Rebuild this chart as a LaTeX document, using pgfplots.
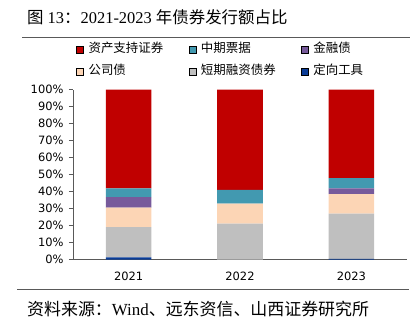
\documentclass[border=0pt]{standalone}
\usepackage{fontspec}
\usepackage{pgfplots}
\pgfplotsset{compat=1.18}
\setmainfont{Liberation Serif}
\newfontfamily\cjk{Noto Sans CJK SC}
\newfontfamily\tickfont{DejaVu Sans}
\definecolor{cRed}{HTML}{C00000}
\definecolor{cTeal}{HTML}{4299B0}
\definecolor{cPurple}{HTML}{775A9B}
\definecolor{cPeach}{HTML}{FCD5B5}
\definecolor{cGray}{HTML}{BFBFBF}
\definecolor{cBlue}{HTML}{0A3C96}
\definecolor{axisgray}{HTML}{595959}
\begin{document}
\begin{tikzpicture}
\path[use as bounding box] (0,0) rectangle (417bp,-331bp);
\node[anchor=west,inner sep=0pt,font=\fontsize{16.5}{18}\selectfont] at (27bp,-17bp) {{\cjk 图} 13{\cjk ：}2021-2023 {\cjk 年债券发行额占比}};
\draw[axisgray,line width=1bp] (22bp,-37.7bp) -- (410bp,-37.7bp);
\draw[axisgray,line width=1bp] (17bp,-289.3bp) -- (409bp,-289.3bp);
\node[anchor=west,inner sep=0pt,font=\fontsize{17}{19}\selectfont] at (27bp,-309bp) {{\cjk 资料来源：}Wind{\cjk 、远东资信、山西证券研究所}};
\begin{axis}[
  scale only axis,
  width=334bp, height=170bp,
  at={(73bp,-259.5bp)}, anchor=south west,
  ybar stacked, bar width=0.41,
  xmin=-0.5, xmax=2.5, ymin=0, ymax=100,
  axis x line*=bottom, axis y line*=left,
  axis line style={-,axisgray,line width=0.8bp},
  xtick={0,1,2}, xticklabels={2021,2022,2023},
  x tick style={draw=none},
  extra x ticks={0.5,1.5,2.5}, extra x tick labels={},
  extra x tick style={tick align=inside, major tick length=4bp, tick style={draw=axisgray,line width=0.8bp}},
  ytick={0,10,...,100},
  yticklabel={\pgfmathprintnumber{\tick}\%},
  ytick align=outside, major tick length=4bp,
  y tick style={axisgray,line width=0.8bp},
  /pgf/number format/assume math mode=true,
  ticklabel style={font=\tickfont\fontsize{11.5}{13}\selectfont, text=black},
  xticklabel style={yshift=-9bp},
  yticklabel style={xshift=-2bp},
  legend columns=3,
  legend cell align=left,
  legend style={draw=none, fill=none, at={(0bp,199bp)}, anchor=west,
    font=\cjk\fontsize{12.5}{14}\selectfont,
    nodes={inner xsep=0pt, text width=100bp, text height=9bp, text depth=3bp},
    row sep=6bp,
    /tikz/every odd column/.append style={column sep=5bp}},
  legend image code/.code={\fill[#1] (0bp,-3.5bp) rectangle (7bp,3.5bp);},
]
\addplot[fill=cBlue, draw=none, forget plot] coordinates {(0,1.3) (1,0) (2,0.4)};
\addplot[fill=cGray, draw=none, forget plot] coordinates {(0,17.7) (1,21.1) (2,26.6)};
\addplot[fill=cPeach, draw=none, forget plot] coordinates {(0,11.5) (1,11.7) (2,11.5)};
\addplot[fill=cPurple, draw=none, forget plot] coordinates {(0,6.2) (1,0) (2,3.3)};
\addplot[fill=cTeal, draw=none, forget plot] coordinates {(0,5.1) (1,8.2) (2,6.1)};
\addplot[fill=cRed, draw=none, forget plot] coordinates {(0,58.2) (1,59.0) (2,52.1)};
\addlegendimage{fill=cRed}\addlegendentry{资产支持证券}
\addlegendimage{fill=cTeal}\addlegendentry{中期票据}
\addlegendimage{fill=cPurple}\addlegendentry{金融债}
\addlegendimage{fill=cPeach}\addlegendentry{公司债}
\addlegendimage{fill=cGray}\addlegendentry{短期融资债券}
\addlegendimage{fill=cBlue}\addlegendentry{定向工具}
\end{axis}
\end{tikzpicture}
\end{document}
